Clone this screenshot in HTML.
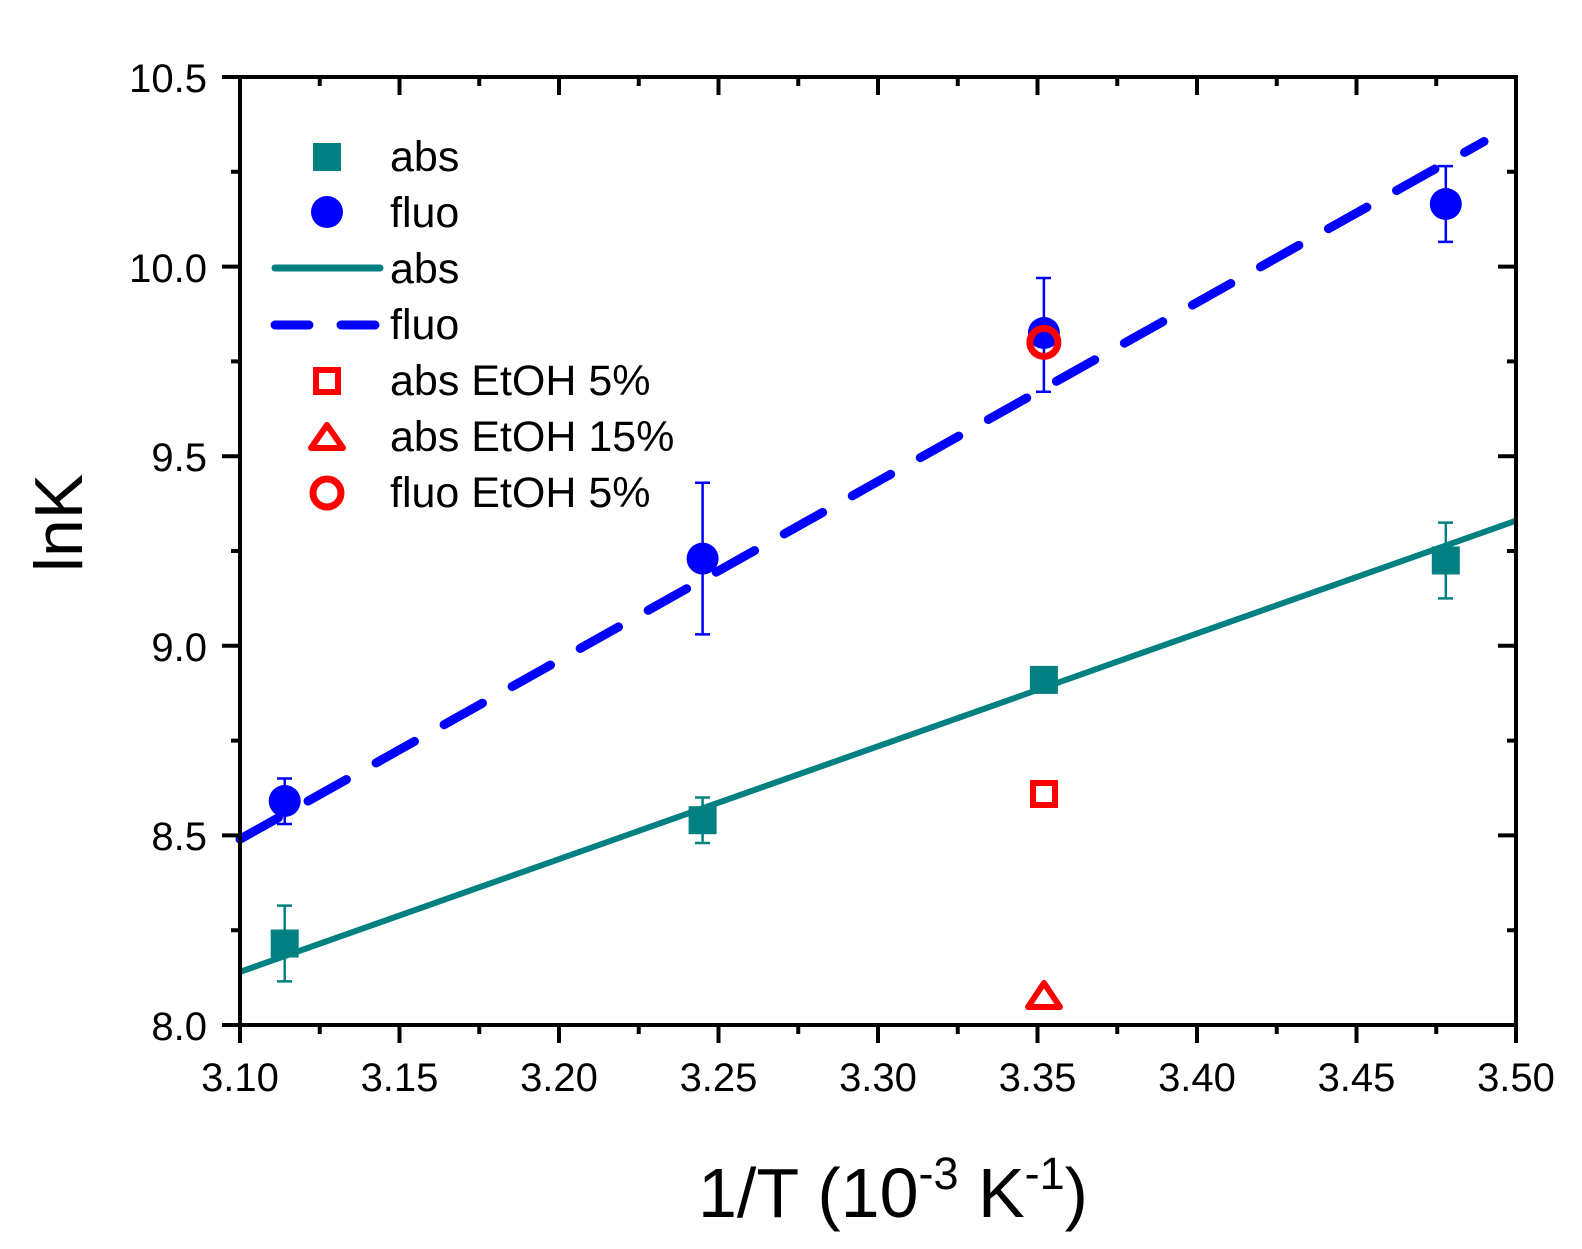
<!DOCTYPE html>
<html><head><meta charset="utf-8"><style>body{margin:0;background:#fff}svg{display:block}</style></head>
<body>
<svg width="1582" height="1249" viewBox="0 0 1582 1249" xmlns="http://www.w3.org/2000/svg" font-family="Liberation Sans, Arial, sans-serif">
<rect width="1582" height="1249" fill="#fff"/>
<line x1="240" y1="971.9" x2="1516" y2="520.7" stroke="#008080" stroke-width="6"/>
<line x1="240" y1="839.2" x2="1484" y2="141.5" stroke="#0000ff" stroke-width="9" stroke-dasharray="44 34" stroke-linecap="round"/>
<g stroke="#008080" stroke-width="2.5">
<path d="M284.7 981.4V905.6M277 981.4h15M277 905.6h15"/>
<path d="M702.6 843V797.5M695 843h15M695 797.5h15"/>
<path d="M1043.9 691.3V668.5M1036 691.3h15M1036 668.5h15"/>
<path d="M1445.8 598.4V522.6M1438 598.4h15M1438 522.6h15"/>
</g>
<g stroke="#0000ff" stroke-width="2.5">
<path d="M284.7 824V778.5M277 824h15M277 778.5h15"/>
<path d="M702.6 634.4V482.7M695 634.4h15M695 482.7h15"/>
<path d="M1043.9 391.7V278M1036 391.7h15M1036 278h15"/>
<path d="M1445.8 241.9V166.1M1438 241.9h15M1438 166.1h15"/>
</g>
<g fill="#008080">
<rect x="270.7" y="929.5" width="28" height="28"/>
<rect x="688.6" y="806.2" width="28" height="28"/>
<rect x="1029.9" y="665.9" width="28" height="28"/>
<rect x="1431.8" y="546.5" width="28" height="28"/>
</g>
<g fill="#0000ff">
<circle cx="284.7" cy="801" r="16"/>
<circle cx="702.6" cy="558.6" r="16"/>
<circle cx="1043.9" cy="333" r="16"/>
<circle cx="1445.8" cy="204" r="16"/>
</g>
<rect x="1033" y="783" width="22" height="22" fill="none" stroke="#ff0000" stroke-width="6"/>
<polygon points="1044,983 1060,1007 1028,1007" fill="none" stroke="#ff0000" stroke-width="6" stroke-linejoin="round"/>
<circle cx="1043.9" cy="342.4" r="14" fill="none" stroke="#ff0000" stroke-width="7"/>
<rect x="240" y="77" width="1276" height="948" fill="none" stroke="#000" stroke-width="4"/>
<g stroke="#000" stroke-width="4">
<path d="M240 1025v18M399.5 1025v18M559 1025v18M718.5 1025v18M878 1025v18M1037.5 1025v18M1197 1025v18M1356.5 1025v18M1516 1025v18"/>
<path d="M319.75 1025v9M479.25 1025v9M638.75 1025v9M798.25 1025v9M957.75 1025v9M1117.25 1025v9M1276.75 1025v9M1436.25 1025v9"/>
<path d="M399.5 77v18M559 77v18M718.5 77v18M878 77v18M1037.5 77v18M1197 77v18M1356.5 77v18"/>
<path d="M319.75 77v9M479.25 77v9M638.75 77v9M798.25 77v9M957.75 77v9M1117.25 77v9M1276.75 77v9M1436.25 77v9"/>
<path d="M240 1025h-18M240 835.4h-18M240 645.8h-18M240 456.2h-18M240 266.6h-18M240 77h-18"/>
<path d="M240 930.2h-9M240 740.6h-9M240 551h-9M240 361.4h-9M240 171.8h-9"/>
<path d="M1516 835.4h-18M1516 645.8h-18M1516 456.2h-18M1516 266.6h-18"/>
<path d="M1516 930.2h-9M1516 740.6h-9M1516 551h-9M1516 361.4h-9M1516 171.8h-9"/>
</g>
<g font-size="40" text-anchor="middle" fill="#000">
<text x="240" y="1091">3.10</text><text x="399.5" y="1091">3.15</text><text x="559" y="1091">3.20</text>
<text x="718.5" y="1091">3.25</text><text x="878" y="1091">3.30</text><text x="1037.5" y="1091">3.35</text>
<text x="1197" y="1091">3.40</text><text x="1356.5" y="1091">3.45</text><text x="1516" y="1091">3.50</text>
</g>
<g font-size="40" text-anchor="end" fill="#000">
<text x="207" y="1040">8.0</text><text x="207" y="850">8.5</text><text x="207" y="661">9.0</text>
<text x="207" y="471">9.5</text><text x="207" y="282">10.0</text><text x="207" y="92">10.5</text>
</g>
<text x="893" y="1217" font-size="70" text-anchor="middle">1/T (10<tspan font-size="45" dy="-28">-3</tspan><tspan dy="28"> K</tspan><tspan font-size="45" dy="-28">-1</tspan><tspan dy="28">)</tspan></text>
<text transform="translate(82,523) rotate(-90)" font-size="68" text-anchor="middle">lnK</text>
<rect x="313" y="143" width="28" height="28" fill="#008080"/>
<circle cx="327" cy="212" r="16" fill="#0000ff"/>
<line x1="275" y1="268" x2="380" y2="268" stroke="#008080" stroke-width="7" stroke-linecap="round"/>
<path d="M275 325h34M341 325h34" stroke="#0000ff" stroke-width="9" stroke-linecap="round"/>
<rect x="316" y="370" width="22" height="22" fill="none" stroke="#ff0000" stroke-width="6"/>
<polygon points="327,425 343,448 311,448" fill="none" stroke="#ff0000" stroke-width="6" stroke-linejoin="round"/>
<circle cx="327" cy="493" r="14" fill="none" stroke="#ff0000" stroke-width="7"/>
<g font-size="43" fill="#000">
<text x="390" y="171">abs</text><text x="390" y="227">fluo</text><text x="390" y="283">abs</text>
<text x="390" y="339">fluo</text><text x="390" y="395">abs EtOH 5%</text><text x="390" y="451">abs EtOH 15%</text>
<text x="390" y="507">fluo EtOH 5%</text>
</g>
</svg>
</body></html>
